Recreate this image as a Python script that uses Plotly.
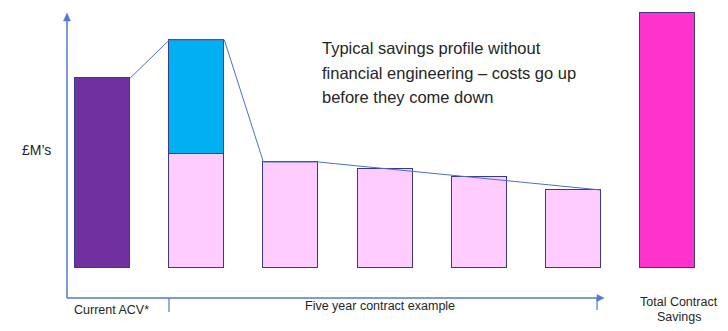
import plotly.graph_objects as go

# ---- data (arbitrary £M units) ----
categories = ["Current ACV", "Year 1", "Year 2", "Year 3", "Year 4", "Year 5", "Total Contract Savings"]
current_acv = [95, None, None, None, None, None, None]
contract_cost = [None, 57, 53, 49.5, 45.5, 39, None]
transition_cost = [None, 57, None, None, None, None, None]
total_savings = [None, None, None, None, None, None, 127.5]

annotation_lines = ["Typical savings profile without",
                    "financial engineering – costs go up",
                    "before they come down"]

W, H = 728, 331
bar_w = 0.585
outline = dict(color="#3A3A8C", width=1)
xs = list(range(len(categories)))

fig = go.Figure()
fig.add_bar(x=xs, y=current_acv, width=bar_w, marker=dict(color="#7030A0", line=outline))
fig.add_bar(x=xs, y=contract_cost, width=bar_w, marker=dict(color="#FFCCFF", line=outline))
fig.add_bar(x=xs, y=transition_cost, width=bar_w, marker=dict(color="#00B0F0", line=outline))
fig.add_bar(x=xs, y=total_savings, width=bar_w, marker=dict(color="#FF33CC", line=outline))

# connector line across bar tops
y1_top = contract_cost[1] + transition_cost[1]
lx = [0 + bar_w / 2, 1 - bar_w / 2, 1 + bar_w / 2, 2 - bar_w / 2, 2 + bar_w / 2, 5 + bar_w / 2]
ly = [current_acv[0], y1_top, y1_top, contract_cost[2], contract_cost[2], contract_cost[5]]
fig.add_scatter(x=lx, y=ly, mode="lines", line=dict(color="#4A6FC7", width=1), hoverinfo="skip")

axis_col = "#4F7BD0"
txt_col = "#262626"
fig.update_layout(
    width=W, height=H, barmode="stack", bargap=0,
    margin=dict(l=0, r=0, t=0, b=0),
    plot_bgcolor="white", paper_bgcolor="white", showlegend=False,
    font=dict(family="Liberation Sans, Arial, sans-serif", color=txt_col),
    xaxis=dict(range=[-1.092, 6.645], visible=False, fixedrange=True),
    yaxis=dict(range=[-31.5, 134], visible=False, fixedrange=True),
)

def px(x):
    return x / W

def py(y):
    return 1 - y / H

# axes with arrows
fig.add_shape(type="line", xref="paper", yref="paper", x0=px(67), y0=py(298), x1=px(67), y1=py(20),
              line=dict(color=axis_col, width=1.5))
fig.add_shape(type="line", xref="paper", yref="paper", x0=px(67), y0=py(298), x1=px(598), y1=py(298),
              line=dict(color=axis_col, width=1.5))
fig.add_shape(type="path", xref="paper", yref="paper",
              path=f"M {px(597)} {py(294.5)} L {px(604)} {py(298)} L {px(597)} {py(301.5)} Z",
              fillcolor=axis_col, line=dict(color=axis_col, width=0.5))
fig.add_shape(type="path", xref="paper", yref="paper",
              path=f"M {px(63.5)} {py(21)} L {px(67)} {py(13)} L {px(70.5)} {py(21)} Z",
              fillcolor=axis_col, line=dict(color=axis_col, width=0.5))
# tick separators
fig.add_shape(type="line", xref="paper", yref="paper", x0=px(169), y0=py(298), x1=px(169), y1=py(312),
              line=dict(color=axis_col, width=1.2))
fig.add_shape(type="line", xref="paper", yref="paper", x0=px(597), y0=py(298), x1=px(597), y1=py(310),
              line=dict(color=axis_col, width=1.2))

def label(x, y, text, size, xanchor="center"):
    fig.add_annotation(xref="paper", yref="paper", x=px(x), y=py(y), text=text, showarrow=False,
                       xanchor=xanchor, yanchor="middle", font=dict(size=size, color=txt_col))

for i, line in enumerate(annotation_lines):
    label(320, 48 + 24.5 * i, line, 16.5, xanchor="left")

label(36, 150, "£M’s", 14)
label(111, 310, "Current ACV*", 12.5)
label(380, 306, "Five year contract example", 12.5)
label(679, 302, "Total Contract", 12.5)
label(679, 317, "Savings", 12.5)

fig.write_html("out.html")
